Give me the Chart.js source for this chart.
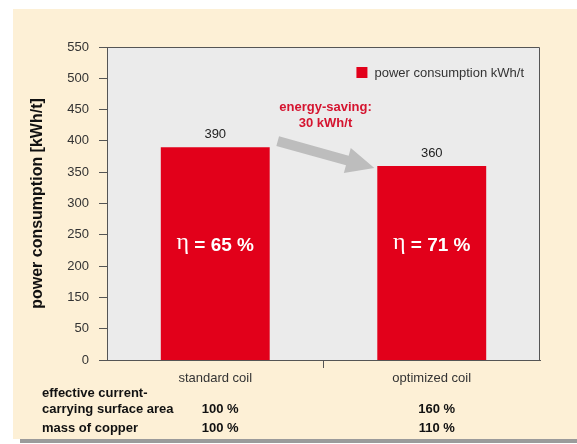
<!DOCTYPE html>
<html>
<head>
<meta charset="utf-8">
<script src="https://cdn.jsdelivr.net/npm/chart.js@4.4.1/dist/chart.umd.min.js"></script>
<style>
html, body { margin: 0; padding: 0; background: #fff; }
canvas { display: block; }
</style>
</head>
<body>
<canvas id="coil-chart" width="577" height="444"></canvas>
<script>
const categories = ['standard coil', 'optimized coil'];
const consumption = [390, 360];
const efficiency = [65, 71];
// the original axis skips the "100" label
const yTickLabels = ['0', '50', '150', '200', '250', '300', '350', '400', '450', '500', '550'];
const surfaceArea = [100, 160];
const copperMass = [100, 110];

const RED = '#e2001a';
const FONT = '"Liberation Sans", Arial, sans-serif';

function drawArrow(ctx, x1, y1, x2, y2) {
    const ang = Math.atan2(y2 - y1, x2 - x1);
    const len = Math.hypot(x2 - x1, y2 - y1);
    ctx.save();
    ctx.translate(x1, y1);
    ctx.rotate(ang);
    ctx.beginPath();
    ctx.moveTo(0, -5);
    ctx.lineTo(len - 28, -5);
    ctx.lineTo(len - 28, -13);
    ctx.lineTo(len, 0);
    ctx.lineTo(len - 28, 13);
    ctx.lineTo(len - 28, 5);
    ctx.lineTo(0, 5);
    ctx.closePath();
    ctx.fillStyle = '#bdbdbd';
    ctx.fill();
    ctx.restore();
}

const decorPlugin = {
    id: 'decor',
    beforeDraw(chart) {
        const {ctx, chartArea: a} = chart;
        ctx.save();
        ctx.fillStyle = '#ffffff';
        ctx.fillRect(0, 0, chart.width, chart.height);
        ctx.fillStyle = '#9b9b9b';
        ctx.fillRect(20, 438, chart.width - 20, 5);
        ctx.fillStyle = '#fdf0d6';
        ctx.fillRect(13, 9, chart.width - 13, 430);
        ctx.fillStyle = '#ebebeb';
        ctx.fillRect(a.left, a.top, a.right - a.left, a.bottom - a.top);
        ctx.restore();
    },
    afterDatasetsDraw(chart) {
        const {ctx, chartArea: a} = chart;
        const bars = chart.getDatasetMeta(0).data;
        const x = chart.scales.x;
        ctx.save();
        ctx.textAlign = 'center';

        // values above bars
        ctx.fillStyle = '#222';
        ctx.font = '13px ' + FONT;
        ctx.textBaseline = 'alphabetic';
        bars.forEach((b, i) => ctx.fillText(String(consumption[i]), b.x, b.y - 9));

        // legend inside the plot, top right
        const ds = chart.data.datasets[0];
        ctx.textAlign = 'right';
        ctx.fillStyle = '#333';
        ctx.fillText(ds.label, a.right - 16, a.top + 30);
        const lw = ctx.measureText(ds.label).width;
        ctx.fillStyle = ds.backgroundColor;
        ctx.fillRect(a.right - 16 - lw - 18, a.top + 20, 11, 11);

        // efficiency inside bars
        ctx.fillStyle = '#fff';
        ctx.textBaseline = 'middle';
        bars.forEach((b, i) => {
            const rest = ' = ' + efficiency[i] + ' %';
            ctx.font = 'bold 19px ' + FONT;
            const wRest = ctx.measureText(rest).width;
            ctx.font = '24px "Liberation Serif", serif';
            const wEta = ctx.measureText('\u03b7').width;
            const x0 = b.x - (wRest + wEta) / 2;
            ctx.textAlign = 'left';
            ctx.fillText('\u03b7', x0, a.bottom - 117);
            ctx.font = 'bold 19px ' + FONT;
            ctx.fillText(rest, x0 + wEta, a.bottom - 114);
        });

        // saving arrow and note
        const b1 = bars[0], b2 = bars[1];
        drawArrow(ctx, b1.x + b1.width / 2 + 8, b1.y - 6, b2.x - b2.width / 2 - 3, b2.y + 2);
        ctx.textAlign = 'center';
        ctx.fillStyle = '#d5142f';
        ctx.font = 'bold 13px ' + FONT;
        const mid = (b1.x + b2.x) / 2 + 2;
        ctx.fillText('energy-saving:', mid, b1.y - 40);
        ctx.fillText((consumption[0] - consumption[1]) + ' kWh/t', mid, b1.y - 24);

        // table under the axis
        ctx.fillStyle = '#111';
        ctx.textAlign = 'left';
        ctx.fillText('effective current-', 42, 393);
        ctx.fillText('carrying surface area', 42, 409);
        ctx.fillText('mass of copper', 42, 428);
        ctx.textAlign = 'center';
        categories.forEach((c, i) => {
            const px = x.getPixelForValue(i) + 5;
            ctx.fillText(surfaceArea[i] + ' %', px, 409);
            ctx.fillText(copperMass[i] + ' %', px, 428);
        });
        ctx.restore();
    },
    afterDraw(chart) {
        const {ctx, chartArea: a} = chart;
        ctx.save();
        ctx.strokeStyle = '#555';
        ctx.lineWidth = 1;
        ctx.beginPath();
        ctx.moveTo(a.left, a.top + 0.5);
        ctx.lineTo(a.right - 0.5, a.top + 0.5);
        ctx.lineTo(a.right - 0.5, a.bottom);
        ctx.stroke();
        ctx.restore();
    }
};

function buildCoilChart() {
    Chart.defaults.font.family = FONT;
    const ctx = document.getElementById('coil-chart').getContext('2d');
    return new Chart(ctx, {
        type: 'bar',
        data: {
            labels: categories,
            datasets: [{
                label: 'power consumption kWh/t',
                data: consumption,
                backgroundColor: RED,
                borderWidth: 0,
                barPercentage: 1.0,
                categoryPercentage: 0.503
            }]
        },
        options: {
            responsive: false,
            animation: false,
            devicePixelRatio: 1,
            layout: { padding: { top: 47, right: 37, left: 0, bottom: 0 } },
            plugins: {
                tooltip: { enabled: false },
                legend: { display: false }
            },
            scales: {
                x: {
                    offset: true,
                    grid: {
                        offset: true,
                        drawOnChartArea: false,
                        tickLength: 8,
                        color: (c) => c.index === 1 ? '#555' : 'rgba(0,0,0,0)'
                    },
                    border: { display: true, color: '#555' },
                    ticks: { color: '#333', font: { size: 13 }, padding: 3 },
                    afterFit: (s) => { s.height = 84; }
                },
                y: {
                    min: 50,
                    max: 550,
                    ticks: {
                        stepSize: 50,
                        color: '#333',
                        font: { size: 13 },
                        padding: 10,
                        callback: (v, i) => yTickLabels[i]
                    },
                    grid: { drawOnChartArea: false, tickLength: 8, color: '#555' },
                    border: { display: true, color: '#555' },
                    title: {
                        display: true,
                        text: 'power consumption [kWh/t]',
                        color: '#111',
                        font: { size: 16, weight: 'bold' },
                        padding: { top: 28, bottom: 0 }
                    },
                    afterFit: (s) => { s.width = 107; }
                }
            }
        },
        plugins: [decorPlugin]
    });
}

document.addEventListener('DOMContentLoaded', buildCoilChart);
</script>
</body>
</html>
